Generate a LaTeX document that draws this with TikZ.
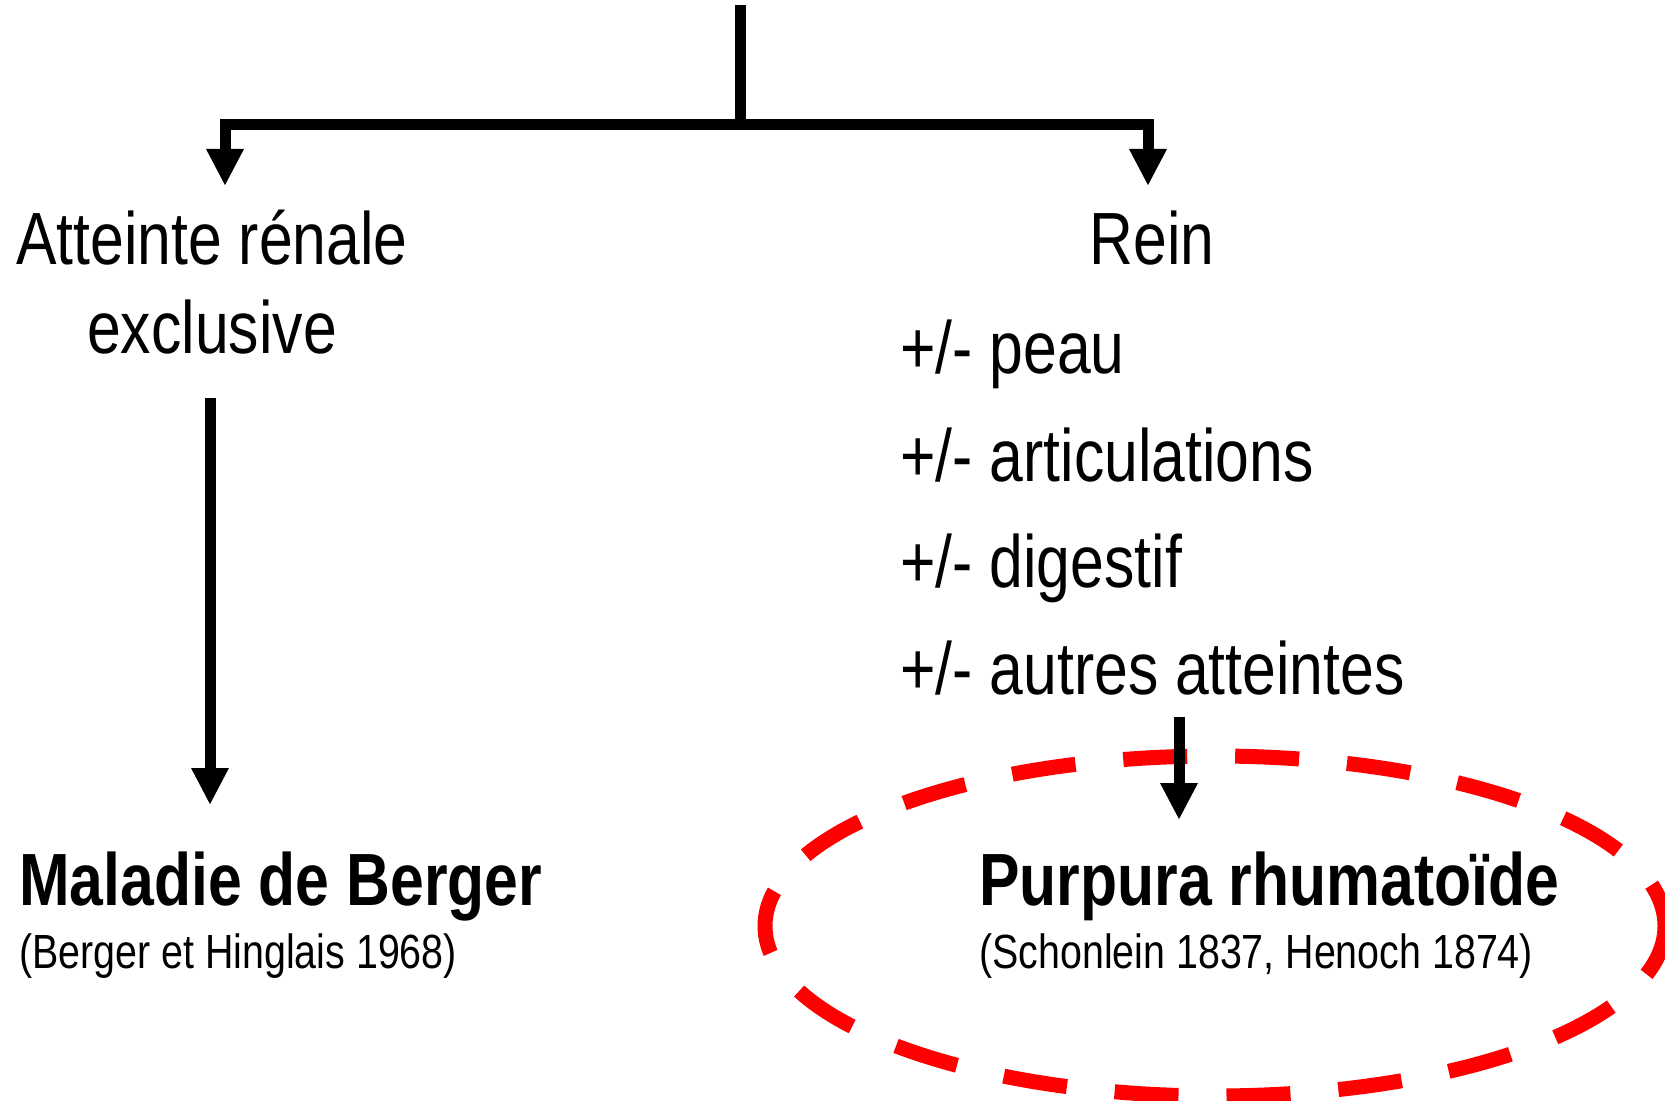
\documentclass[tikz,border=0pt]{standalone}
\usepackage{fontspec}
\setmainfont{Liberation Sans}[FakeStretch=0.82]
\usetikzlibrary{arrows.meta,shapes.geometric}
\tikzset{
  link/.style={line width=5.5pt, draw=black},
  arr/.style={link, -{Triangle[width=17.5pt,length=18.5pt]}},
  bigtxt/.style={font=\fontsize{37}{40}\selectfont, inner sep=0pt},
  boldtxt/.style={font=\fontsize{37}{40}\selectfont\bfseries, inner sep=0pt},
  smalltxt/.style={font=\fontsize{24}{27}\selectfont, inner sep=0pt},
  oval/.style={ellipse, draw=red, line width=7.5pt,
    dash pattern=on 32pt off 24pt, dash phase=10pt, inner sep=0pt}
}
\begin{document}
\begin{tikzpicture}[x=0.5pt,y=-0.5pt]
\useasboundingbox (0,0) rectangle (1665,1101);
% branching connectors
\coordinate (top) at (740,5);
\coordinate (fork) at (740,125);
\coordinate (ltip) at (225,186);
\coordinate (rtip) at (1148,186);
\draw[link] (top) -- (fork);
\draw[arr] (fork) -| (ltip);
\draw[arr] (fork) -| (rtip);
% left branch
\node[bigtxt, anchor=base] (att1) at (212,265) {Atteinte rénale};
\node[bigtxt, anchor=base] (att2) at (212,354) {exclusive};
\coordinate (lstart) at (210,398);
\coordinate (lend) at (210,805);
\draw[arr] (lstart) -- (lend);
\node[boldtxt, anchor=base west] (berger) at (19,905) {Maladie de Berger};
\node[smalltxt, anchor=base west] (bergerref) at (19,968) {(Berger et Hinglais 1968)};
% right branch
\node[bigtxt, anchor=base] (rein) at (1152,265) {Rein};
\node[bigtxt, anchor=base west] (s1) at (900,374) {+/- peau};
\node[bigtxt, anchor=base west] (s2) at (900,481) {+/- articulations};
\node[bigtxt, anchor=base west] (s3) at (900,587) {+/- digestif};
\node[bigtxt, anchor=base west] (s4) at (900,694) {+/- autres atteintes};
\node[oval, minimum width=450pt, minimum height=170pt] (ring) at (1215,926) {};
\coordinate (rstart) at (1179,717);
\coordinate (rend) at (1179,820);
\draw[arr] (rstart) -- (rend);
\node[boldtxt, anchor=base west] (purpura) at (979,905) {Purpura rhumatoïde};
\node[smalltxt, anchor=base west] (purpuraref) at (979,968) {(Schonlein 1837, Henoch 1874)};
\end{tikzpicture}
\end{document}
